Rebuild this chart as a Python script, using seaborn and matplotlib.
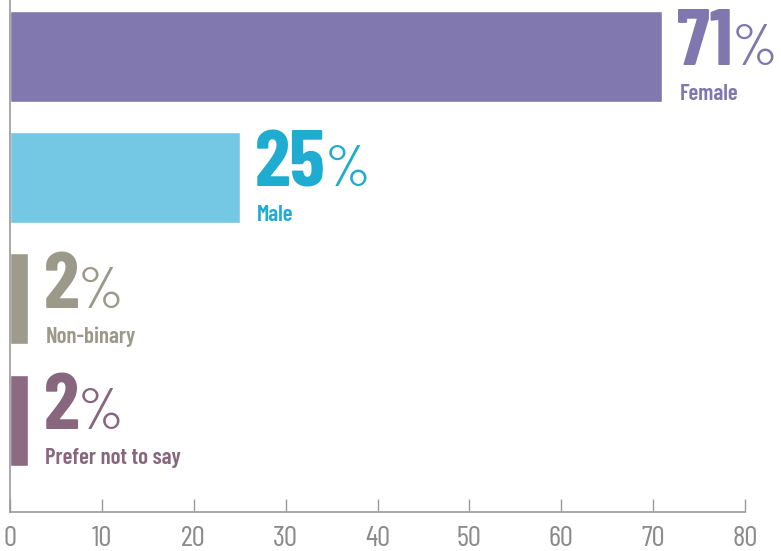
import matplotlib
matplotlib.use("Agg")
import matplotlib.pyplot as plt
import seaborn as sns
import pandas as pd

# Gender split of respondents (percent)
categories = ["Female", "Male", "Non-binary", "Prefer not to say"]
values = [71, 25, 2, 2]
bar_colors = ["#8078AE", "#74C8E4", "#9D9B8C", "#8B6A82"]
text_colors = ["#7F77AD", "#1EADD1", "#9B998A", "#87667E"]
x_ticks = [0, 10, 20, 30, 40, 50, 60, 70, 80]

sns.set_theme(style="white")
NARROW = ["Barlow Condensed", "DejaVu Sans"]
plt.rcParams["font.family"] = NARROW

df = pd.DataFrame({"category": categories, "value": values})

fig = plt.figure(figsize=(7.81, 5.51), dpi=100)
ax = fig.add_axes([10 / 781, 1 - 512 / 551, 735 / 781, 512 / 551])

sns.barplot(data=df, x="value", y="category", hue="category",
            palette=dict(zip(categories, bar_colors)), orient="h",
            width=0.75, saturation=1, legend=False, ax=ax)

ax.set_xlim(0, 80)
ax.set_ylim(3.758, -0.462)
ax.set_xticks(x_ticks)
ax.set_xticklabels([str(t) for t in x_ticks])
ax.set_yticks([])
ax.set_xlabel("")
ax.set_ylabel("")

for side in ("top", "right"):
    ax.spines[side].set_visible(False)
for side in ("left", "bottom"):
    ax.spines[side].set_color("#9a9a9a")
    ax.spines[side].set_linewidth(1.2)

ax.tick_params(axis="x", direction="in", length=9.5, width=1.0,
               color="#9a9a9a", pad=10, labelsize=21, labelcolor="#8a8a8a",
               bottom=True)
for lbl in ax.get_xticklabels():
    lbl.set_fontweight(400)

# Value and category labels beside each bar
num_texts = []
for i, (cat, v, c) in enumerate(zip(categories, values, text_colors)):
    t = ax.annotate(f"{v}", xy=(v, i), xycoords="data",
                    xytext=(15, -9), textcoords="offset pixels",
                    ha="left", va="baseline", fontsize=58,
                    fontweight=700, color=c, family=NARROW)
    num_texts.append(t)
    ax.annotate(cat, xy=(v, i), xycoords="data",
                xytext=(17, -44), textcoords="offset pixels",
                ha="left", va="baseline", fontsize=16.5,
                fontweight=600, color=c, family=NARROW)

fig.canvas.draw()
renderer = fig.canvas.get_renderer()
for i, (v, c, t) in enumerate(zip(values, text_colors, num_texts)):
    w = t.get_window_extent(renderer).width
    ax.annotate("%", xy=(v, i), xycoords="data",
                xytext=(15 + w - 1, -9), textcoords="offset pixels",
                ha="left", va="baseline", fontsize=42,
                fontweight=400, color=c, family=NARROW)

fig.savefig("out.png", dpi=100)
